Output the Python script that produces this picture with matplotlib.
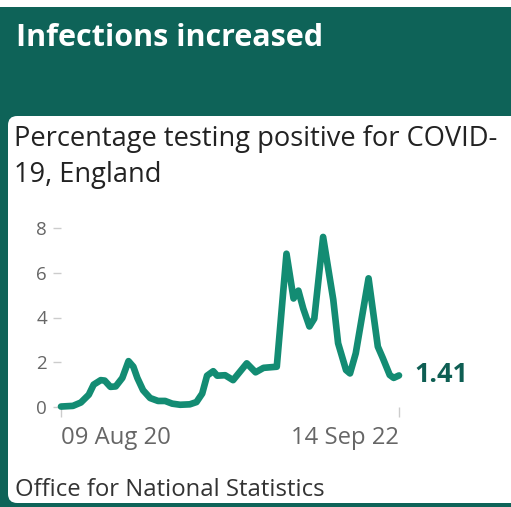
import matplotlib
matplotlib.use("Agg")
import matplotlib.pyplot as plt
import matplotlib.dates as mdates
from matplotlib.patches import Rectangle, FancyBboxPatch
import pandas as pd

# Percentage of people testing positive for COVID-19 in England (ONS survey)
dates = [
    "2020-08-09", "2020-09-05", "2020-09-23", "2020-10-11", "2020-10-22",
    "2020-11-07", "2020-11-16", "2020-11-29", "2020-12-11", "2020-12-26",
    "2021-01-09", "2021-01-20", "2021-01-29", "2021-02-11", "2021-02-27",
    "2021-03-17", "2021-04-02", "2021-04-18", "2021-05-06", "2021-05-28",
    "2021-06-12", "2021-06-25", "2021-07-06", "2021-07-20", "2021-07-29",
    "2021-08-16", "2021-09-03", "2021-10-04", "2021-10-24", "2021-11-11",
    "2021-12-11", "2022-01-02", "2022-01-18", "2022-01-29", "2022-02-09",
    "2022-02-23", "2022-03-06", "2022-03-26", "2022-04-18", "2022-04-29",
    "2022-05-17", "2022-05-26", "2022-06-08", "2022-07-07", "2022-07-28",
    "2022-08-08", "2022-08-24", "2022-09-02", "2022-09-14",
]
positivity = [
    0.02, 0.05, 0.20, 0.55, 1.00,
    1.20, 1.18, 0.90, 0.92, 1.30,
    2.05, 1.80, 1.30, 0.75, 0.40,
    0.27, 0.27, 0.15, 0.10, 0.12,
    0.22, 0.60, 1.40, 1.60, 1.40,
    1.42, 1.20, 1.95, 1.55, 1.75,
    1.80, 6.85, 4.85, 5.20, 4.40,
    3.60, 3.95, 7.60, 4.80, 2.85,
    1.65, 1.50, 2.40, 5.75, 2.70,
    2.20, 1.43, 1.30, 1.41,
]
y_ticks = [0, 2, 4, 6, 8]
x_tick_dates = ["2020-08-09", "2022-09-14"]
x_tick_labels = ["09 Aug 20", "14 Sep 22"]
title = "Infections increased"
subtitle = "Percentage testing positive for COVID-\n19, England"
source = "Office for National Statistics"

W, H = 511, 507
DARK = "#0e6358"
LINE = "#138c73"

plt.rcParams["font.family"] = ["Open Sans", "DejaVu Sans"]

fig = plt.figure(figsize=(W / 100, H / 100), dpi=100)
fig.patch.set_facecolor("white")


def fx(px):
    return px / W


def fy(py):
    return 1 - py / H


# card background and inner white panel
fig.patches.append(Rectangle((0, 0), 1, fy(7), transform=fig.transFigure,
                             facecolor=DARK, edgecolor="none", zorder=0))
fig.patches.append(FancyBboxPatch((fx(8), fy(503)), fx(530) - fx(8), fy(116) - fy(503),
                                  boxstyle="round,pad=0,rounding_size=0.018",
                                  transform=fig.transFigure,
                                  facecolor="white", edgecolor="none", zorder=1))

fig.text(fx(16), fy(38), title, color="white", fontsize=22, fontweight="bold",
         va="center", ha="left", zorder=3)
fig.text(fx(14), fy(157), subtitle, color="#222222", fontsize=19.6,
         va="center", ha="left", linespacing=1.35, zorder=3)
fig.text(fx(15), fy(490), source, color="#333333", fontsize=17.2,
         va="center", ha="left", zorder=3)

x = pd.to_datetime(dates)
x0, x1 = pd.to_datetime(x_tick_dates[0]), pd.to_datetime(x_tick_dates[1])

ax = fig.add_axes([fx(61), fy(407), fx(399) - fx(61), fy(228) - fy(407)])
ax.set_zorder(2)
ax.patch.set_alpha(0)
ax.plot(x, positivity, color=LINE, linewidth=4.8, solid_joinstyle="round",
        solid_capstyle="round", clip_on=False)
ax.set_xlim(x0, x1)
ax.set_ylim(0, 8)
for s in ax.spines.values():
    s.set_visible(False)

ax.set_yticks(y_ticks)
ax.set_yticklabels([str(v) for v in y_ticks])
ax.tick_params(axis="y", length=6, width=1, color="#cccccc", pad=4,
               labelsize=13.5, labelcolor="#666666")

ax.set_xticks(pd.to_datetime(x_tick_dates))
ax.set_xticklabels(x_tick_labels)
ax.tick_params(axis="x", length=7.5, width=1, color="#cccccc", pad=6,
               labelsize=17.2, labelcolor="#666666")
labels = ax.get_xticklabels()
labels[0].set_ha("left")
labels[1].set_ha("right")

ax.annotate(f"{positivity[-1]:.2f}", xy=(x[-1], positivity[-1]),
            xytext=(11, 0), textcoords="offset points",
            color="#0e5e53", fontsize=19.5, fontweight="bold",
            va="center", ha="left", annotation_clip=False)

fig.savefig("out.png", dpi=100, facecolor=fig.get_facecolor())
